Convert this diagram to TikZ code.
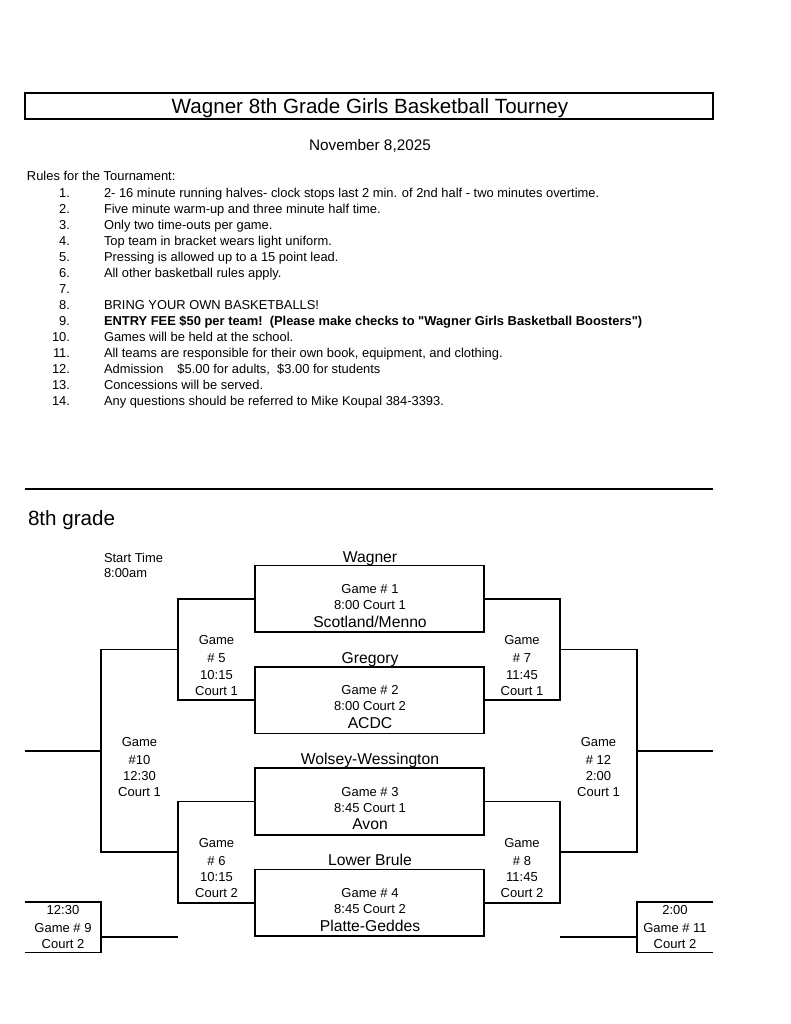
\documentclass[tikz,border=0pt]{standalone}
\usepackage{fontspec}
\setmainfont{Liberation Sans}[Ligatures=TeXOff]
\begin{document}
\begin{tikzpicture}[x=1pt,y=-1pt,
  every node/.style={inner sep=0pt, outer sep=0pt},
  sm/.style={font=\fontsize{13}{15}\selectfont, anchor=base},
  smw/.style={font=\fontsize{12.9}{15}\selectfont, anchor=base west},
  sme/.style={font=\fontsize{12.9}{15}\selectfont, anchor=base east},
  team/.style={font=\fontsize{15.7}{18}\selectfont, anchor=base},
  big/.style={font=\fontsize{20.6}{24}\selectfont},
  gbox/.style={draw, line width=1.6pt, minimum width=229pt, minimum height=66.7pt},
  bline/.style={line width=1.6pt},
]
\useasboundingbox[fill=white] (0,0) rectangle (791,1024);

% title
\node[draw, line width=1.5pt, minimum width=688pt, minimum height=26pt] (titlebox) at (369,106) {};
\node[big, anchor=base] (title) at (370,113.4) {Wagner 8th Grade Girls Basketball Tourney};
\node[anchor=base, font=\fontsize{15.3}{18}\selectfont] (date) at (370,150.5) {November 8,2025};

% rules
\node[smw] (rules) at (27,180.6) {Rules for the Tournament:};
\node[sme] (n1) at (70,197.6) {1.};  \node[smw] (t1) at (104,197.6) {2- 16 minute running halves- clock stops last 2 min. of 2nd half - two minutes overtime.};
\node[sme] (n2) at (70,213.6) {2.};  \node[smw] (t2) at (104,213.6) {Five minute warm-up and three minute half time.};
\node[sme] (n3) at (70,229.6) {3.};  \node[smw] (t3) at (104,229.6) {Only two time-outs per game.};
\node[sme] (n4) at (70,245.6) {4.};  \node[smw] (t4) at (104,245.6) {Top team in bracket wears light uniform.};
\node[sme] (n5) at (70,261.6) {5.};  \node[smw] (t5) at (104,261.6) {Pressing is allowed up to a 15 point lead.};
\node[sme] (n6) at (70,277.6) {6.};  \node[smw] (t6) at (104,277.6) {All other basketball rules apply.};
\node[sme] (n7) at (70,293.6) {7.};
\node[sme] (n8) at (70,309.6) {8.};  \node[smw] (t8) at (104,309.6) {BRING YOUR OWN BASKETBALLS!};
\node[sme] (n9) at (70,325.6) {9.};  \node[smw] (t9) at (104,325.6) {\bfseries ENTRY FEE \$50 per team!\ \ (Please make checks to "Wagner Girls Basketball Boosters")};
\node[sme] (n10) at (70,341.6) {10.}; \node[smw] (t10) at (104,341.6) {Games will be held at the school.};
\node[sme] (n11) at (70,357.6) {11.}; \node[smw] (t11) at (104,357.6) {All teams are responsible for their own book, equipment, and clothing.};
\node[sme] (n12) at (70,373.6) {12.}; \node[smw] (t12) at (104,373.6) {Admission\hspace{14pt}\$5.00 for adults,\ \ \$3.00 for students};
\node[sme] (n13) at (70,389.6) {13.}; \node[smw] (t13) at (104,389.6) {Concessions will be served.};
\node[sme] (n14) at (70,405.6) {14.}; \node[smw] (t14) at (104,405.6) {Any questions should be referred to Mike Koupal 384-3393.};

% separator
\coordinate (sepL) at (25,489);
\coordinate (sepR) at (713,489);
\draw[line width=1.5pt] (sepL) -- (sepR);

\node[big, anchor=base west] (grade) at (28,525) {8th grade};
\node[smw] (st1) at (104,562.5) {Start Time};
\node[smw] (st2) at (104,577.7) {8:00am};

% first-round boxes
\node[gbox] (g1) at (369.5,598.85) {};
\node[gbox] (g2) at (369.5,700.15) {};
\node[gbox] (g3) at (369.5,801.45) {};
\node[gbox] (g4) at (369.5,902.75) {};

\node[team] (tw) at (370,562) {Wagner};
\node[sm] (g1a) at (370,593.5) {Game \# 1};
\node[sm] (g1b) at (370,609.5) {8:00 Court 1};
\node[team] (ts) at (370,627) {Scotland/Menno};

\node[team] (tg) at (370,663.3) {Gregory};
\node[sm] (g2a) at (370,694.8) {Game \# 2};
\node[sm] (g2b) at (370,710.8) {8:00 Court 2};
\node[team] (ta) at (370,728.3) {ACDC};

\node[team] (tww) at (370,764.6) {Wolsey-Wessington};
\node[sm] (g3a) at (370,796.1) {Game \# 3};
\node[sm] (g3b) at (370,812.1) {8:45 Court 1};
\node[team] (tav) at (370,829.8) {Avon};

\node[team] (tlb) at (370,865.9) {Lower Brule};
\node[sm] (g4a) at (370,897.4) {Game \# 4};
\node[sm] (g4b) at (370,913.4) {8:45 Court 2};
\node[team] (tpg) at (370,931.2) {Platte-Geddes};

% bracket columns
\coordinate (L1) at (178,0);
\coordinate (L2) at (101,0);
\coordinate (R1) at (560,0);
\coordinate (R2) at (637,0);

\draw[bline] (g1.west) -| (L1 |- g2.west) -- (g2.west);
\draw[bline] (g3.west) -| (L1 |- g4.west) -- (g4.west);
\draw[bline] (g1.east) -| (R1 |- g2.east) -- (g2.east);
\draw[bline] (g3.east) -| (R1 |- g4.east) -- (g4.east);

\coordinate (m5) at (178,649.5);
\coordinate (m6) at (178,852.1);
\coordinate (m7) at (560,649.5);
\coordinate (m8) at (560,852.1);
\draw[bline] (m5) -| (L2 |- m6) -- (m6);
\draw[bline] (m7) -| (R2 |- m8) -- (m8);

\coordinate (m10) at (101,750.8);
\coordinate (e10) at (25,750.8);
\coordinate (m12) at (637,750.8);
\coordinate (e12) at (713,750.8);
\draw[bline] (m10) -- (e10);
\draw[bline] (m12) -- (e12);

% consolation boxes
\coordinate (b9a) at (25,902);
\coordinate (b9b) at (101,902);
\coordinate (b9c) at (101,952.5);
\coordinate (b9d) at (25,952.5);
\coordinate (b9e) at (101,937);
\coordinate (f9) at (178,937);
\draw[bline] (b9a) -- (b9b) -- (b9c) -- (b9d);
\draw[bline] (b9e) -- (f9);

\coordinate (b11a) at (713,902);
\coordinate (b11b) at (637,902);
\coordinate (b11c) at (637,952.5);
\coordinate (b11d) at (713,952.5);
\coordinate (b11e) at (637,937);
\coordinate (f11) at (560,937);
\draw[bline] (b11a) -- (b11b) -- (b11c) -- (b11d);
\draw[bline] (b11e) -- (f11);

% game labels
\node[sm] (l5a) at (216.5,644.5) {Game};
\node[sm] (l5b) at (216.5,662) {\# 5};
\node[sm] (l5c) at (216.5,679) {10:15};
\node[sm] (l5d) at (216.5,695.5) {Court 1};

\node[sm] (l7a) at (522,644.5) {Game};
\node[sm] (l7b) at (522,662) {\# 7};
\node[sm] (l7c) at (522,679) {11:45};
\node[sm] (l7d) at (522,695.5) {Court 1};

\node[sm] (l10a) at (139.5,746) {Game};
\node[sm] (l10b) at (139.5,764) {\#10};
\node[sm] (l10c) at (139.5,780.5) {12:30};
\node[sm] (l10d) at (139.5,796.8) {Court 1};

\node[sm] (l12a) at (598.5,746) {Game};
\node[sm] (l12b) at (598.5,764) {\# 12};
\node[sm] (l12c) at (598.5,780.5) {2:00};
\node[sm] (l12d) at (598.5,796.8) {Court 1};

\node[sm] (l6a) at (216.5,847.5) {Game};
\node[sm] (l6b) at (216.5,865.5) {\# 6};
\node[sm] (l6c) at (216.5,881.7) {10:15};
\node[sm] (l6d) at (216.5,897.8) {Court 2};

\node[sm] (l8a) at (522,847.5) {Game};
\node[sm] (l8b) at (522,865.5) {\# 8};
\node[sm] (l8c) at (522,881.7) {11:45};
\node[sm] (l8d) at (522,897.8) {Court 2};

\node[sm] (l9a) at (63,914) {12:30};
\node[sm] (l9b) at (63,932.3) {Game \# 9};
\node[sm] (l9c) at (63,948.3) {Court 2};

\node[sm] (l11a) at (675,914) {2:00};
\node[sm] (l11b) at (675,932.3) {Game \# 11};
\node[sm] (l11c) at (675,948.3) {Court 2};
\end{tikzpicture}
\end{document}
